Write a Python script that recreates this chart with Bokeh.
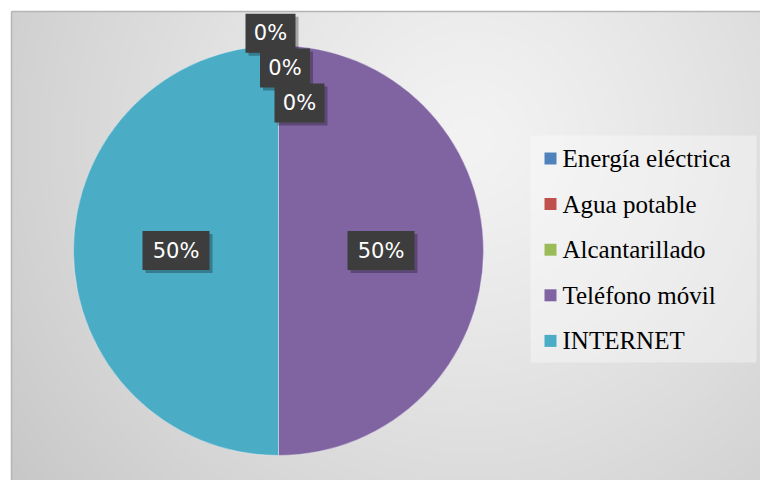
import numpy as np
from bokeh.plotting import figure
from bokeh.models import Range1d
from bokeh.core.properties import value
from bokeh.embed import file_html
from bokeh.resources import INLINE

# ---- data ----
categories = ["Energía eléctrica", "Agua potable", "Alcantarillado", "Teléfono móvil", "INTERNET"]
values = [0, 0, 0, 50, 50]
colors = ["#4f81bd", "#c0504d", "#9bbb59", "#8064a2", "#4bacc6"]

# ---- layout helpers (reference pixel -> figure data units) ----
W, H = 760, 480
def fx(X):
    return X
def fy(Y):
    return H - Y

p = figure(width=W, height=H, x_range=Range1d(0, W), y_range=Range1d(0, H),
           x_axis_type=None, y_axis_type=None, toolbar_location=None,
           output_backend="svg", min_border=0)
p.grid.visible = False
p.outline_line_color = None
p.background_fill_color = "white"
p.border_fill_color = "white"

# ---- chart area background (soft gray radial gradient) ----
gx0, gy0 = 11, 0
gw, gh = W - gx0, fy(11)
xs = np.arange(gw) + 0.5 + gx0
ys = np.arange(gh) + 0.5 + gy0
XX, YY = np.meshgrid(xs, ys)
cxg, cyg = fx(470), fy(140)
d = np.clip(np.sqrt((XX - cxg) ** 2 + (YY - cyg) ** 2) / 600.0, 0, 1)
g = (243 - (243 - 197) * d ** 1.2).astype(np.uint8)
img = np.empty((gh, gw), dtype=np.uint32)
view = img.view(dtype=np.uint8).reshape((gh, gw, 4))
view[..., 0] = g
view[..., 1] = g
view[..., 2] = g
view[..., 3] = 255
p.image_rgba(image=[img], x=gx0, y=gy0, dw=gw, dh=gh)
p.segment(x0=[gx0, gx0], y0=[gh, 0], x1=[W, gx0], y1=[gh, gh], line_color="#b5b5b5", line_width=1.5)

# ---- pie ----
cx, cy, R = fx(278), fy(250), 205
total = float(sum(values))
fracs = [v / total for v in values]
cum = np.concatenate([[0.0], np.cumsum(fracs)])
starts = [np.pi / 2 - 2 * np.pi * c for c in cum[:-1]]
ends = [np.pi / 2 - 2 * np.pi * c for c in cum[1:]]

nz = [i for i, v in enumerate(values) if v > 0]
p.wedge(x=cx, y=cy, radius=R,
        start_angle=[starts[i] for i in nz], end_angle=[ends[i] for i in nz],
        direction="clock", fill_color=[colors[i] for i in nz],
        line_color="#ffffff", line_alpha=0.35, line_width=1)

# ---- data labels ----
lab_x, lab_y, lab_t, lab_w = [], [], [], []
zero_k = 0
for i, v in enumerate(values):
    t = f"{round(100 * fracs[i])}%"
    if v > 0:
        mid = (starts[i] + ends[i]) / 2
        lab_x.append(cx + 0.5 * R * np.cos(mid))
        lab_y.append(cy + 0.5 * R * np.sin(mid))
    else:
        mid = starts[i]
        rr = (1.06 - 0.17 * zero_k) * R
        lab_x.append(cx + rr * np.cos(mid) - 8 + 14.5 * zero_k)
        lab_y.append(cy + rr * np.sin(mid))
        zero_k += 1
    lab_t.append(t)
    lab_w.append(16 + 17 * len(t))

p.rect(x=[x + 3 for x in lab_x], y=[y - 3 for y in lab_y], width=lab_w, height=39,
       fill_color="black", fill_alpha=0.28, line_color=None)
p.rect(x=lab_x, y=lab_y, width=lab_w, height=39, fill_color="#3d3d3d", line_color=None)
p.text(x=lab_x, y=lab_y, text=lab_t, text_align="center", text_baseline="middle",
       text_color="white", text_font=value("DejaVu Sans"), text_font_size="21px")

# ---- legend ----
p.quad(left=fx(530), right=fx(756), top=fy(135), bottom=fy(362),
       fill_color="white", fill_alpha=0.35, line_color=None)
row_y = [fy(158 + 45.6 * k) for k in range(len(categories))]
p.rect(x=fx(550), y=row_y, width=12, height=12, fill_color=colors, line_color=None)
p.text(x=fx(562), y=row_y, text=categories, text_align="left", text_baseline="middle",
       text_color="black", text_font=value("Liberation Serif"),
       text_font_size="25px")

open("out.html", "w").write(file_html(p, INLINE))
